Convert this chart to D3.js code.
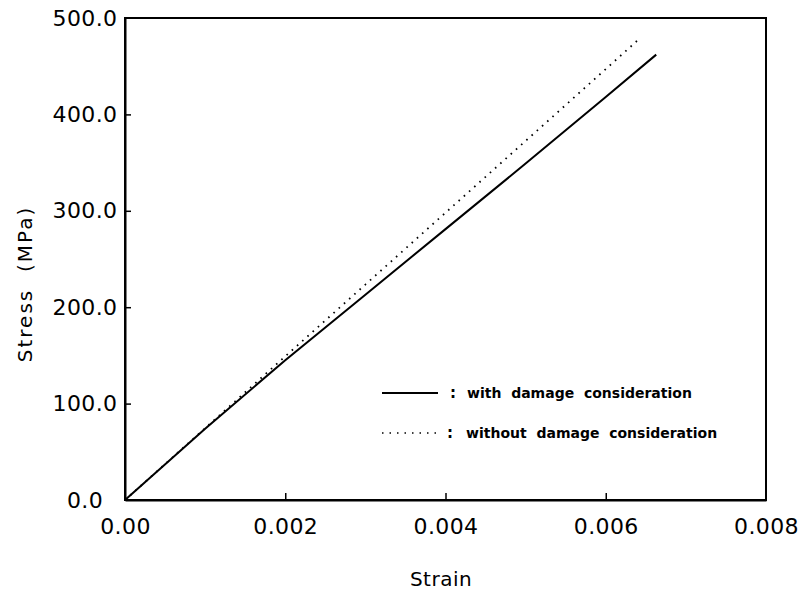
<!DOCTYPE html>
<html>
<head>
<meta charset="utf-8">
<script src="https://cdn.jsdelivr.net/npm/d3@7"></script>
<style>
  body { margin: 0; background: #fff; }
  text { font-family: "DejaVu Sans", sans-serif; fill: #000; }
</style>
</head>
<body>
<div id="container"></div>
<script>
/* DATA */
const strainDamage = [0, 0.001, 0.002, 0.003, 0.004, 0.005, 0.006, 0.00663];
const stressDamage = [0, 74, 145, 213, 281, 349, 418, 462];
const strainNoDamage = [0, 0.001, 0.002, 0.003, 0.004, 0.005, 0.006, 0.0064];
const stressNoDamage = [0, 74.5, 149, 223.5, 298, 372.5, 447, 477];
const xTicks = [0, 0.002, 0.004, 0.006, 0.008];
const yTicks = [0, 100, 200, 300, 400, 500];
const legendLabels = ["with  damage  consideration", "without  damage  consideration"];

/* LAYOUT */
const W = 802, H = 592;
const margin = {top: 18, right: 36, bottom: 92, left: 125};
const width = W - margin.left - margin.right;
const height = H - margin.top - margin.bottom;

const svg = d3.select("#container").append("svg")
    .attr("width", W)
    .attr("height", H);
const g = svg.append("g")
    .attr("transform", "translate(" + margin.left + "," + margin.top + ")");

const x = d3.scaleLinear().domain([0, 0.008]).range([0, width]);
const y = d3.scaleLinear().domain([0, 500]).range([height, 0]);

// frame
g.append("rect")
    .attr("x", 0).attr("y", 0)
    .attr("width", width).attr("height", height)
    .attr("fill", "none")
    .attr("stroke", "#000")
    .attr("stroke-width", 2);

// x axis (ticks pointing inward)
const xAxis = g.append("g")
    .attr("transform", "translate(0," + height + ")")
    .call(d3.axisBottom(x).tickValues(xTicks)
      .tickSizeInner(-7).tickSizeOuter(0)
      .tickFormat((d, i) => i === 0 ? "0.00" : d3.format(".3f")(d)));
xAxis.select(".domain").attr("stroke-width", 2);
xAxis.selectAll(".tick line").attr("stroke-width", 1.5)
    .attr("display", d => (d === 0 || d === 0.008) ? "none" : null);
xAxis.selectAll(".tick text")
    .attr("y", 18)
    .attr("dy", "0.71em")
    .style("font-size", "22px")
    .style("letter-spacing", "0.4px");

// y axis, labels centred in the left margin
const yAxis = g.append("g")
    .call(d3.axisLeft(y).tickValues(yTicks)
      .tickSizeInner(-6).tickSizeOuter(0)
      .tickFormat(d3.format(".1f")));
yAxis.select(".domain").attr("stroke-width", 2);
yAxis.selectAll(".tick line").attr("stroke-width", 1.5)
    .attr("display", d => (d === 0 || d === 500) ? "none" : null);
yAxis.selectAll(".tick text")
    .attr("x", -40)
    .attr("text-anchor", "middle")
    .style("font-size", "22px")
    .style("letter-spacing", "0.4px");

// lines
const lineGen = d3.line().x(d => x(d[0])).y(d => y(d[1]));
const damage = strainDamage.map((s, i) => [s, stressDamage[i]]);
const noDamage = strainNoDamage.map((s, i) => [s, stressNoDamage[i]]);

g.append("path")
    .datum(noDamage)
    .attr("d", lineGen)
    .attr("fill", "none")
    .attr("stroke", "#000")
    .attr("stroke-width", 1.8)
    .attr("stroke-dasharray", "1.6,5.4");

g.append("path")
    .datum(damage)
    .attr("d", lineGen)
    .attr("fill", "none")
    .attr("stroke", "#000")
    .attr("stroke-width", 2);

// legend
const legend = svg.append("g");
legend.append("line")
    .attr("x1", 382).attr("x2", 438)
    .attr("y1", 393).attr("y2", 393)
    .attr("stroke", "#000").attr("stroke-width", 1.8);
legend.append("line")
    .attr("x1", 382).attr("x2", 440)
    .attr("y1", 433).attr("y2", 433)
    .attr("stroke", "#000").attr("stroke-width", 1.5)
    .attr("stroke-dasharray", "1.5,6");
legend.selectAll("text.colon")
    .data(legendLabels)
    .join("text")
    .attr("class", "colon")
    .attr("x", (d, i) => i === 0 ? 450 : 447)
    .attr("y", (d, i) => 398 + i * 40)
    .style("font-size", "15px")
    .style("font-weight", "bold")
    .text(":");
legend.selectAll("text.leg")
    .data(legendLabels)
    .join("text")
    .attr("class", "leg")
    .attr("x", (d, i) => i === 0 ? 467 : 466)
    .attr("y", (d, i) => 398 + i * 40)
    .attr("xml:space", "preserve")
    .style("font-size", "14px")
    .style("font-weight", "bold")
    .style("white-space", "pre")
    .text(d => d);

// axis titles
svg.append("text")
    .attr("x", 441)
    .attr("y", 586)
    .attr("text-anchor", "middle")
    .style("font-size", "20px")
    .style("letter-spacing", "0.5px")
    .text("Strain");

svg.append("text")
    .attr("transform", "translate(32,284) rotate(-90)")
    .attr("text-anchor", "middle")
    .attr("xml:space", "preserve")
    .style("font-size", "20px")
    .style("letter-spacing", "2px")
    .style("white-space", "pre")
    .text("Stress  (MPa)");
</script>
</body>
</html>
